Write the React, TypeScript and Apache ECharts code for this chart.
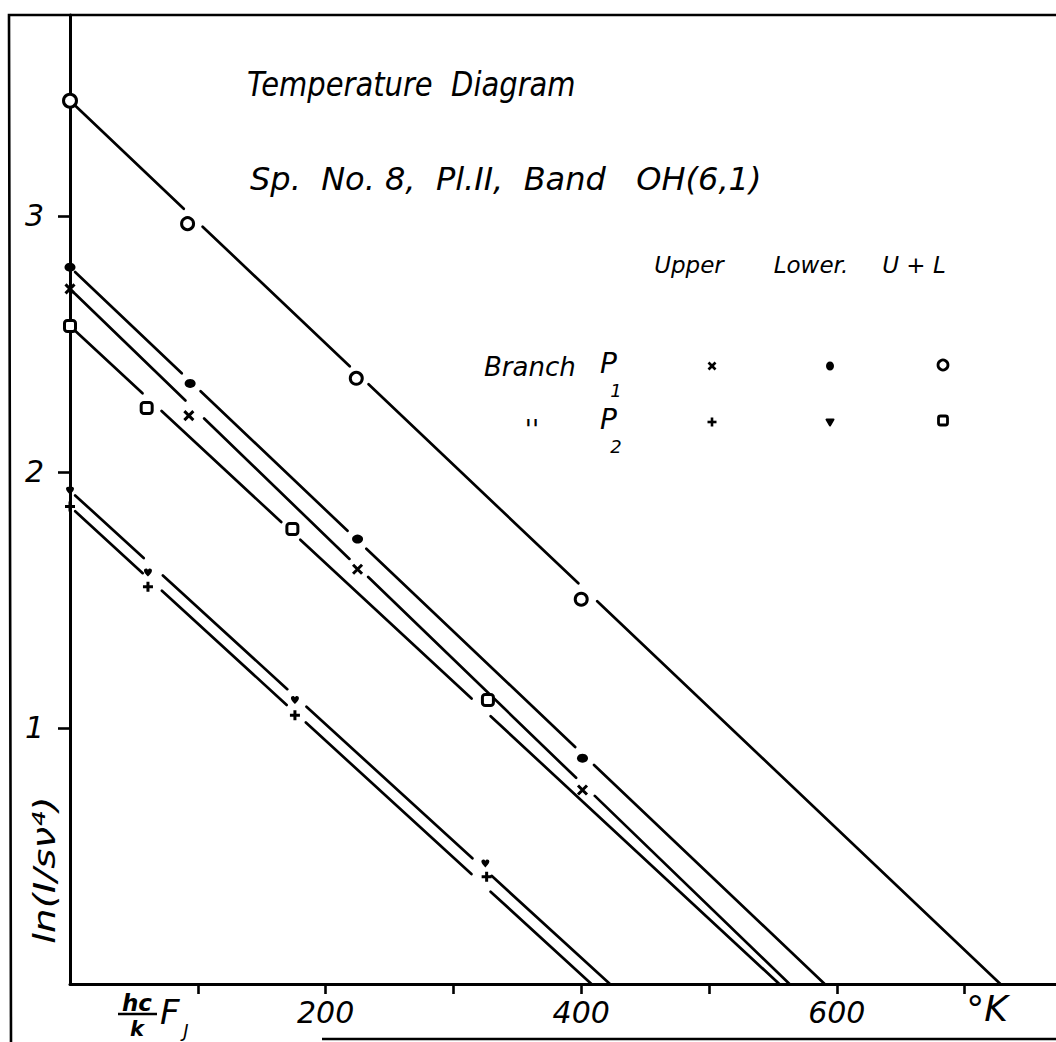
import React, { useEffect, useRef } from "react";
import * as echarts from "echarts";

// ---- data: x = (hc/k)·F_J in °K, y = ln(I/sν⁴) ----
const upperP1X = [0, 93, 225, 401];
const upperP1Y = [2.715, 2.22, 1.62, 0.758];
const lowerP1X = [0, 94, 225, 401];
const lowerP1Y = [2.8, 2.346, 1.738, 0.882];
const sumP1X = [0, 92, 224, 400];
const sumP1Y = [3.45, 2.97, 2.366, 1.503];
const upperP2X = [0, 61, 176, 326];
const upperP2Y = [1.865, 1.552, 1.05, 0.419];
const lowerP2X = [0, 61, 176, 325];
const lowerP2Y = [1.927, 1.607, 1.109, 0.471];
const sumP2X = [0, 60, 174, 327];
const sumP2Y = [2.57, 2.25, 1.777, 1.109];

// fitted straight lines: value at F = 0 and the F where ln(I/sν⁴) reaches 0
const lineNames = ["Upper P1", "Lower P1", "U+L P1", "Upper P2", "Lower P2", "U+L P2"];
const lineStartY = [2.715, 2.8, 3.45, 1.865, 1.927, 2.57];
const lineEndX = [563, 590.5, 728, 408, 422.5, 555];

const xTickValues = [100, 200, 300, 400, 500, 600, 700];
const xLabelValues = [200, 400, 600];
const yTickValues = [1, 2, 3];
const xMax = 771.5;
const yMax = 3.785;

const FONT = "'DejaVu Sans', 'Liberation Sans', sans-serif";
const BLACK = "#000";

const zip = (xs: number[], ys: number[]) => xs.map((x, i) => [x, ys[i]]);
const pointSets = [
  zip(upperP1X, upperP1Y),
  zip(lowerP1X, lowerP1Y),
  zip(sumP1X, sumP1Y),
  zip(upperP2X, upperP2Y),
  zip(lowerP2X, lowerP2Y),
  zip(sumP2X, sumP2Y),
];

const X_PATH = "path://M0,0L10,10M10,0L0,10";
const PLUS_PATH = "path://M5,0L5,10M0,5L10,5";
const HEART_PATH =
  "path://M5,10C3,7.5 0,5.5 0,3C0,0.5 3.5,-0.5 5,2C6.5,-0.5 10,0.5 10,3C10,5.5 7,7.5 5,10Z";

function buildOption() {
  const lineSeries = lineStartY.map((y0, i) => ({
    type: "custom",
    name: lineNames[i],
    silent: true,
    z: 2,
    data: [[0, y0, lineEndX[i], 0]],
    encode: { x: [0, 2], y: [1, 3] },
    renderItem: (_params: any, api: any) => {
      const p0 = api.coord([api.value(0), api.value(1)]);
      const p1 = api.coord([api.value(2), api.value(3)]);
      const dx = p1[0] - p0[0];
      const dy = p1[1] - p0[1];
      const L = Math.hypot(dx, dy);
      const ux = dx / L;
      const uy = dy / L;
      const gaps = pointSets[i]
        .map((pt) => {
          const pm = api.coord(pt);
          const t = (pm[0] - p0[0]) * ux + (pm[1] - p0[1]) * uy;
          return t < 3 ? [-100, 7] : [t - 13, t + 13];
        })
        .sort((a, b) => a[0] - b[0]);
      const children: any[] = [];
      const seg = (a: number, b: number) => ({
        type: "line",
        shape: {
          x1: p0[0] + ux * a,
          y1: p0[1] + uy * a,
          x2: p0[0] + ux * b,
          y2: p0[1] + uy * b,
        },
        style: { stroke: BLACK, lineWidth: 2.7, lineCap: "round" },
      });
      let cur = 0;
      for (const [a, b] of gaps) {
        if (a > cur) children.push(seg(cur, a));
        cur = Math.max(cur, b);
      }
      if (cur < L) children.push(seg(cur, L));
      return { type: "group", children };
    },
  }));

  const markerStyles: any[] = [
    { symbol: X_PATH, symbolSize: 9, itemStyle: { color: BLACK, borderColor: BLACK, borderWidth: 3, opacity: 1 } },
    { symbol: "circle", symbolSize: [11, 9], itemStyle: { color: BLACK, opacity: 1 } },
    {
      symbol: "circle",
      symbolSize: (v: number[]) => (v[0] === 0 ? 13 : 12),
      itemStyle: { color: "#fff", borderColor: BLACK, borderWidth: 3, opacity: 1 },
    },
    { symbol: PLUS_PATH, symbolSize: 10, itemStyle: { color: BLACK, borderColor: BLACK, borderWidth: 3, opacity: 1 } },
    { symbol: HEART_PATH, symbolSize: 8, itemStyle: { color: BLACK, opacity: 1 } },
    {
      symbol: "roundRect",
      symbolSize: 11,
      itemStyle: { color: "#fff", borderColor: BLACK, borderWidth: 3, opacity: 1 },
    },
  ];

  const markerSeries = pointSets.map((pts, i) => ({
    type: "scatter",
    name: lineNames[i] + " points",
    silent: true,
    z: 5,
    data: pts,
    ...markerStyles[i],
  }));

  const textStyle = (size: number) => ({
    fontFamily: FONT,
    fontStyle: "italic",
    fontSize: size,
    fill: BLACK,
  });

  const headerY = 265;
  const legendY1 = 366;
  const legendY2 = 422;

  const graphic: any[] = [
    // frame
    {
      type: "polyline",
      silent: true,
      shape: { points: [[1060, 15], [9, 15], [11, 1045]] },
      style: { stroke: BLACK, lineWidth: 2.6, fill: null },
    },
    {
      type: "line",
      silent: true,
      shape: { x1: 322, y1: 1039, x2: 1060, y2: 1039 },
      style: { stroke: BLACK, lineWidth: 2.6 },
    },
    // titles
    {
      type: "text",
      silent: true,
      x: 247,
      y: 84,
      scaleY: 1.15,
      style: { ...textStyle(29), text: "Temperature  Diagram", x: 0, y: 0, verticalAlign: "middle" },
    },
    {
      type: "text",
      silent: true,
      style: {
        ...textStyle(32),
        text: "Sp.  No. 8,  Pl.II,  Band   OH(6,1)",
        x: 250,
        y: 179,
        verticalAlign: "middle",
      },
    },
    // legend table
    { type: "text", silent: true, style: { ...textStyle(23), text: "Upper", x: 689, y: headerY, align: "center", verticalAlign: "middle" } },
    { type: "text", silent: true, style: { ...textStyle(23), text: "Lower.", x: 811, y: headerY, align: "center", verticalAlign: "middle" } },
    { type: "text", silent: true, style: { ...textStyle(23), text: "U + L", x: 914, y: headerY, align: "center", verticalAlign: "middle" } },
    { type: "text", silent: true, style: { ...textStyle(26), text: "Branch", x: 484, y: 367, verticalAlign: "middle" } },
    { type: "text", silent: true, style: { ...textStyle(28), text: "P", x: 600, y: 363, verticalAlign: "middle" } },
    { type: "text", silent: true, style: { ...textStyle(18), text: "1", x: 616, y: 390, align: "center", verticalAlign: "middle" } },
    { type: "text", silent: true, style: { ...textStyle(26), text: "''", x: 532, y: 430, align: "center", verticalAlign: "middle" } },
    { type: "text", silent: true, style: { ...textStyle(28), text: "P", x: 600, y: 419, verticalAlign: "middle" } },
    { type: "text", silent: true, style: { ...textStyle(18), text: "2", x: 616, y: 446, align: "center", verticalAlign: "middle" } },
    // legend symbols row 1
    {
      type: "group",
      silent: true,
      x: 712,
      y: legendY1,
      children: [
        { type: "line", shape: { x1: -3.5, y1: -3.5, x2: 3.5, y2: 3.5 }, style: { stroke: BLACK, lineWidth: 2.6 } },
        { type: "line", shape: { x1: 3.5, y1: -3.5, x2: -3.5, y2: 3.5 }, style: { stroke: BLACK, lineWidth: 2.6 } },
      ],
    },
    { type: "ellipse", silent: true, shape: { cx: 830, cy: legendY1, rx: 4, ry: 4.5 }, style: { fill: BLACK } },
    { type: "circle", silent: true, shape: { cx: 943, cy: legendY1 - 1, r: 5 }, style: { fill: "#fff", stroke: BLACK, lineWidth: 2.8 } },
    // legend symbols row 2
    {
      type: "group",
      silent: true,
      x: 712,
      y: legendY2,
      children: [
        { type: "line", shape: { x1: 0, y1: -4.5, x2: 0, y2: 4.5 }, style: { stroke: BLACK, lineWidth: 2.6 } },
        { type: "line", shape: { x1: -4.5, y1: 0, x2: 4.5, y2: 0 }, style: { stroke: BLACK, lineWidth: 2.6 } },
      ],
    },
    {
      type: "polygon",
      silent: true,
      shape: { points: [[826.5, legendY2 - 2.5], [833.5, legendY2 - 2.5], [830, legendY2 + 3.5]] },
      style: { fill: BLACK, stroke: BLACK, lineWidth: 2, lineJoin: "round" },
    },
    {
      type: "rect",
      silent: true,
      shape: { x: 938.5, y: legendY2 - 6, width: 9, height: 9, r: 2 },
      style: { fill: "#fff", stroke: BLACK, lineWidth: 2.8 },
    },
    // x axis name: (hc/k) F_J
    { type: "text", silent: true, style: { ...textStyle(23), fontWeight: "bold", text: "hc", x: 137, y: 1003, align: "center", verticalAlign: "middle" } },
    { type: "line", silent: true, shape: { x1: 118, y1: 1014, x2: 157, y2: 1014 }, style: { stroke: BLACK, lineWidth: 2.6 } },
    { type: "text", silent: true, style: { ...textStyle(21), fontWeight: "bold", text: "k", x: 137, y: 1029, align: "center", verticalAlign: "middle" } },
    { type: "text", silent: true, style: { ...textStyle(34), text: "F", x: 160, y: 1012, verticalAlign: "middle" } },
    { type: "text", silent: true, style: { ...textStyle(18), text: "J", x: 186, y: 1030, align: "center", verticalAlign: "middle" } },
    // unit
    { type: "text", silent: true, style: { ...textStyle(36), text: "°K", x: 987, y: 1008, align: "center", verticalAlign: "middle" } },
    // y axis name
    {
      type: "text",
      silent: true,
      x: 44,
      y: 870,
      rotation: Math.PI / 2,
      scaleX: 1.25,
      style: { ...textStyle(31), text: "ln(I/sν⁴)", x: 0, y: 0, align: "center", verticalAlign: "middle" },
    },
  ];

  return {
    animation: false,
    backgroundColor: "#fff",
    grid: { left: 70, top: 15, width: 986, height: 969, containLabel: false },
    xAxis: {
      type: "value",
      min: 0,
      max: xMax,
      interval: 100,
      z: 3,
      splitLine: { show: false },
      axisLine: { show: true, onZero: false, lineStyle: { color: BLACK, width: 3 } },
      axisTick: {
        show: true,
        inside: false,
        length: 10,
        customValues: xTickValues,
        lineStyle: { color: BLACK, width: 2.6 },
      },
      axisLabel: {
        show: true,
        customValues: xLabelValues,
        margin: 13,
        color: BLACK,
        fontFamily: FONT,
        fontStyle: "italic",
        fontSize: 30,
        lineHeight: 30,
      },
    },
    yAxis: {
      type: "value",
      min: 0,
      max: yMax,
      interval: 1,
      z: 3,
      splitLine: { show: false },
      axisLine: { show: true, onZero: false, lineStyle: { color: BLACK, width: 3 } },
      axisTick: {
        show: true,
        inside: false,
        length: 12,
        customValues: yTickValues,
        lineStyle: { color: BLACK, width: 2.6 },
      },
      axisLabel: {
        show: true,
        customValues: yTickValues,
        margin: 26,
        color: BLACK,
        fontFamily: FONT,
        fontStyle: "italic",
        fontSize: 30,
      },
    },
    series: [...lineSeries, ...markerSeries],
    graphic,
  };
}

export default function App() {
  const ref = useRef<HTMLDivElement>(null);
  useEffect(() => {
    if (!ref.current) return;
    const chart = echarts.init(ref.current, undefined, { renderer: "svg" });
    chart.setOption(buildOption() as any);
    return () => chart.dispose();
  }, []);
  return (
    <div
      ref={ref}
      style={{ position: "fixed", left: 0, top: 0, width: 1056, height: 1042, background: "#fff" }}
    />
  );
}
